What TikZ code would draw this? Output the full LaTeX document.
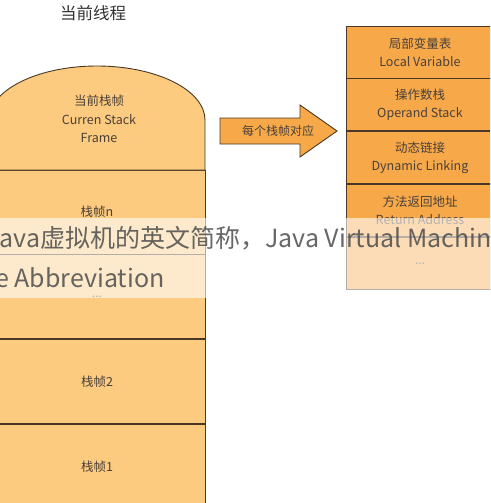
\documentclass[tikz,border=0pt]{standalone}
\usepackage{fontspec}
\setmainfont{Noto Sans CJK SC}
\usetikzlibrary{positioning}
\definecolor{lightorange}{HTML}{FCCB80}
\definecolor{deeporange}{HTML}{F7A94A}
\definecolor{edgebrown}{HTML}{4A3826}
\definecolor{inkgray}{HTML}{4A4038}
\begin{document}
\begin{tikzpicture}[x=1pt,y=-1pt,
    frame/.style={draw=edgebrown,fill=lightorange,line width=0.9pt,minimum width=216pt,minimum height=84pt,inner sep=0pt,text=inkgray,font=\fontsize{12.5}{18.5}\selectfont,align=center},
    part/.style={draw=edgebrown,fill=deeporange,line width=0.9pt,minimum width=148pt,minimum height=52pt,inner sep=0pt,text=inkgray,font=\fontsize{12.5}{18}\selectfont,align=center},
    mark text/.style={text=black!70,opacity=0.85,inner sep=0pt,anchor=west,font=\fontsize{25}{30}\selectfont}]
    \useasboundingbox(0,0)rectangle(490,503);
    \clip(0,0)rectangle(490,503);
    \node[text=black!80,font=\fontsize{16.5}{20}\selectfont](title)at(93,13){当前线程};
    % left stack
    \node[frame](fn)at(97,212){栈帧n};
    \node[frame,below=0pt of fn](fdots){...};
    \node[frame,below=0pt of fdots](f2){栈帧2};
    \node[frame,below=0pt of f2](f1){栈帧1};
    \draw[edgebrown,fill=lightorange,line width=0.9pt](-11,170)--(-11,120)arc[start angle=180,end angle=360,x radius=108,y radius=54]--(205,170)--cycle;
    \node[text=inkgray,font=\fontsize{12.5}{18.5}\selectfont,align=center](cur)at(99,119){当前栈帧\\Curren Stack\\Frame};
    % arrow
    \draw[edgebrown,fill=deeporange,line width=0.9pt](220,118)--(300,118)--(300,105)--(337,131)--(300,157)--(300,144)--(220,144)--cycle;
    \node[text=inkgray,font=\fontsize{12}{14}\selectfont](map)at(278,131){每个栈帧对应};
    % right stack
    \node[part](lv)at(420,52){局部变量表\\Local Variable};
    \node[part,below=0pt of lv](os){操作数栈\\Operand Stack};
    \node[part,below=0pt of os](dl){动态链接\\Dynamic Linking};
    \node[part,below=0pt of dl](ra){方法返回地址\\Return Address};
    \node[part,below=0pt of ra](more){...};
    % overlay band
    \fill[white,opacity=0.6](0,218)rectangle(490,298);
    \node[mark text](wm1)at(-14,238){Java虚拟机的英文简称，Java Virtual Machine};
    \node[mark text](wm2)at(-5,278){e Abbreviation};
\end{tikzpicture}
\end{document}
